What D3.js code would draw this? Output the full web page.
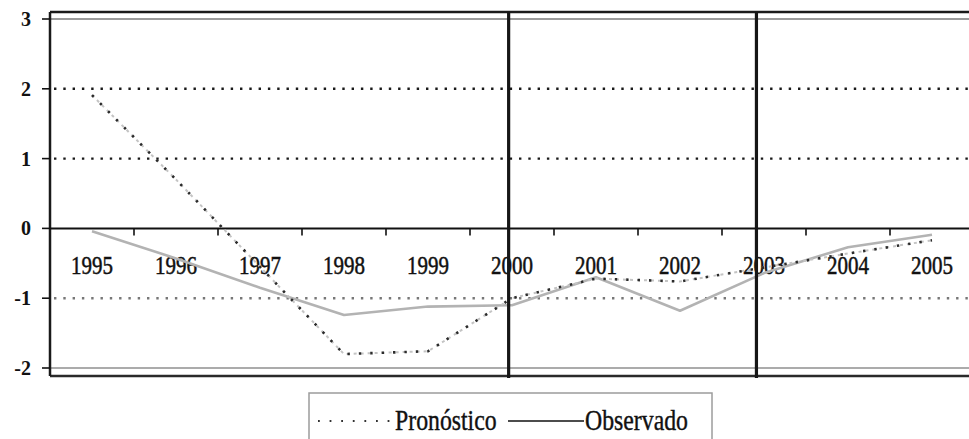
<!DOCTYPE html>
<html>
<head>
<meta charset="utf-8">
<script src="https://cdn.jsdelivr.net/npm/d3@7/dist/d3.min.js"></script>
<style>
  html, body { margin: 0; padding: 0; background: #fff; }
  svg { display: block; }
</style>
</head>
<body>
<svg id="chart" width="969" height="439"></svg>
<script>
// Years on the horizontal axis
const years = ["1995", "1996", "1997", "1998", "1999", "2000", "2001", "2002", "2003", "2004", "2005"];
// Forecast series (Pronóstico)
const pronostico = [1.91, 0.7, -0.55, -1.8, -1.76, -1.0, -0.72, -0.76, -0.56, -0.36, -0.17];
// Observed series (Observado)
const observado = [-0.04, -0.43, -0.85, -1.24, -1.12, -1.1, -0.7, -1.18, -0.64, -0.27, -0.09];
// Y tick values
const yTicks = [-2, -1, 0, 1, 2, 3];
// Reference years marked with vertical rules
const marks = [1999.96, 2002.91];
const legendItems = ["Pronóstico", "Observado"];

const FONT = "'Liberation Serif', 'Times New Roman', serif";

const svg = d3.select("#chart");
const plotLeft = 50, plotRight = 974, plotTop = 19, plotBottom = 368;
const frameTop = 12, frameBottom = 376;

const x = d3.scaleBand().domain(years).range([plotLeft, plotRight]).padding(0);
const y = d3.scaleLinear().domain([-2, 3]).range([plotBottom, plotTop]);
// linear year scale aligned with band centres, for the vertical rules
const xYear = d3.scaleLinear()
  .domain([+years[0], +years[years.length - 1]])
  .range([x(years[0]) + x.bandwidth() / 2, x(years[years.length - 1]) + x.bandwidth() / 2]);

const g = svg.append("g");

// horizontal reference lines
g.append("line").attr("x1", plotLeft).attr("x2", 969).attr("y1", y(3)).attr("y2", y(3))
  .attr("stroke", "#9a9a9a").attr("stroke-width", 2);
g.append("line").attr("x1", plotLeft).attr("x2", 969).attr("y1", y(-2)).attr("y2", y(-2))
  .attr("stroke", "#ababab").attr("stroke-width", 2);
[2, 1].forEach(v => {
  g.append("line").attr("x1", plotLeft + 4).attr("x2", 969).attr("y1", y(v)).attr("y2", y(v))
    .attr("stroke", "#1a1a1a").attr("stroke-width", 2.4).attr("stroke-dasharray", "2.4,6.9");
});
g.append("line").attr("x1", plotLeft + 4).attr("x2", 969).attr("y1", y(-1)).attr("y2", y(-1))
  .attr("stroke", "#777").attr("stroke-width", 2.4).attr("stroke-dasharray", "2.4,6.9");

// frame
g.append("line").attr("x1", plotLeft).attr("x2", 969).attr("y1", frameTop).attr("y2", frameTop)
  .attr("stroke", "#1a1a1a").attr("stroke-width", 2.5);
g.append("line").attr("x1", plotLeft).attr("x2", 969).attr("y1", frameBottom).attr("y2", frameBottom)
  .attr("stroke", "#2a2a2a").attr("stroke-width", 2.5);
g.append("line").attr("x1", plotLeft).attr("x2", plotLeft).attr("y1", frameTop).attr("y2", frameBottom)
  .attr("stroke", "#1a1a1a").attr("stroke-width", 2.5);

// zero axis
g.append("line").attr("x1", plotLeft).attr("x2", 969).attr("y1", y(0)).attr("y2", y(0))
  .attr("stroke", "#111").attr("stroke-width", 2);

// y ticks and labels
yTicks.forEach(v => {
  g.append("line").attr("x1", plotLeft - 8).attr("x2", plotLeft).attr("y1", y(v)).attr("y2", y(v))
    .attr("stroke", "#111").attr("stroke-width", 1.6);
  g.append("text").attr("x", 31).attr("y", y(v) + 7)
    .attr("text-anchor", "end").attr("font-size", 20).attr("font-weight", "bold")
    .attr("font-family", FONT).attr("fill", "#111")
    .text(v);
});

// x ticks at category boundaries
years.slice(1).forEach(yr => {
  const xx = x(yr);
  g.append("line").attr("x1", xx).attr("x2", xx).attr("y1", y(0)).attr("y2", y(0) + 7)
    .attr("stroke", "#111").attr("stroke-width", 1.6);
});

// year labels
years.forEach(yr => {
  const cx = x(yr) + x.bandwidth() / 2;
  g.append("text")
    .attr("transform", `translate(${cx},274) scale(0.84,1)`)
    .attr("text-anchor", "middle").attr("font-size", 25)
    .attr("font-family", FONT).attr("fill", "#111")
    .attr("stroke", "#111").attr("stroke-width", 0.5)
    .text(yr);
});

const line = d3.line()
  .x((d, i) => x(years[i]) + x.bandwidth() / 2)
  .y(d => y(d));

// observed series
g.append("path").datum(observado).attr("d", line)
  .attr("fill", "none").attr("stroke", "#b3b3b3").attr("stroke-width", 2.6)
  .attr("stroke-linejoin", "round");

// forecast series: soft grey dashes under dark dots
g.append("path").datum(pronostico).attr("d", line)
  .attr("fill", "none").attr("stroke", "#c4c4c4").attr("stroke-width", 2)
  .attr("stroke-dasharray", "3,4");
g.append("path").datum(pronostico).attr("d", line)
  .attr("fill", "none").attr("stroke", "#2b2b2b").attr("stroke-width", 2.6)
  .attr("stroke-dasharray", "2.4,9");

// vertical rules
marks.forEach(m => {
  g.append("line").attr("x1", xYear(m)).attr("x2", xYear(m))
    .attr("y1", frameTop).attr("y2", frameBottom + 2)
    .attr("stroke", "#161616").attr("stroke-width", 3.2);
});

// legend
const lg = svg.append("g");
lg.append("rect").attr("x", 309).attr("y", 393).attr("width", 403).attr("height", 60)
  .attr("fill", "#fff").attr("stroke", "#9c9c9c").attr("stroke-width", 1.5);
lg.append("line").attr("x1", 318).attr("x2", 393).attr("y1", 421).attr("y2", 421)
  .attr("stroke", "#333").attr("stroke-width", 1.8).attr("stroke-dasharray", "1.8,9.8");
lg.append("text").attr("transform", "translate(395,430) scale(0.82,1)")
  .attr("font-size", 29).attr("font-family", FONT).attr("fill", "#111")
  .attr("stroke", "#111").attr("stroke-width", 0.4)
  .text(legendItems[0]);
lg.append("line").attr("x1", 508).attr("x2", 584).attr("y1", 421).attr("y2", 421)
  .attr("stroke", "#111").attr("stroke-width", 1.6);
lg.append("text").attr("transform", "translate(585,430) scale(0.82,1)")
  .attr("font-size", 29).attr("font-family", FONT).attr("fill", "#111")
  .attr("stroke", "#111").attr("stroke-width", 0.4)
  .text(legendItems[1]);
</script>
</body>
</html>
